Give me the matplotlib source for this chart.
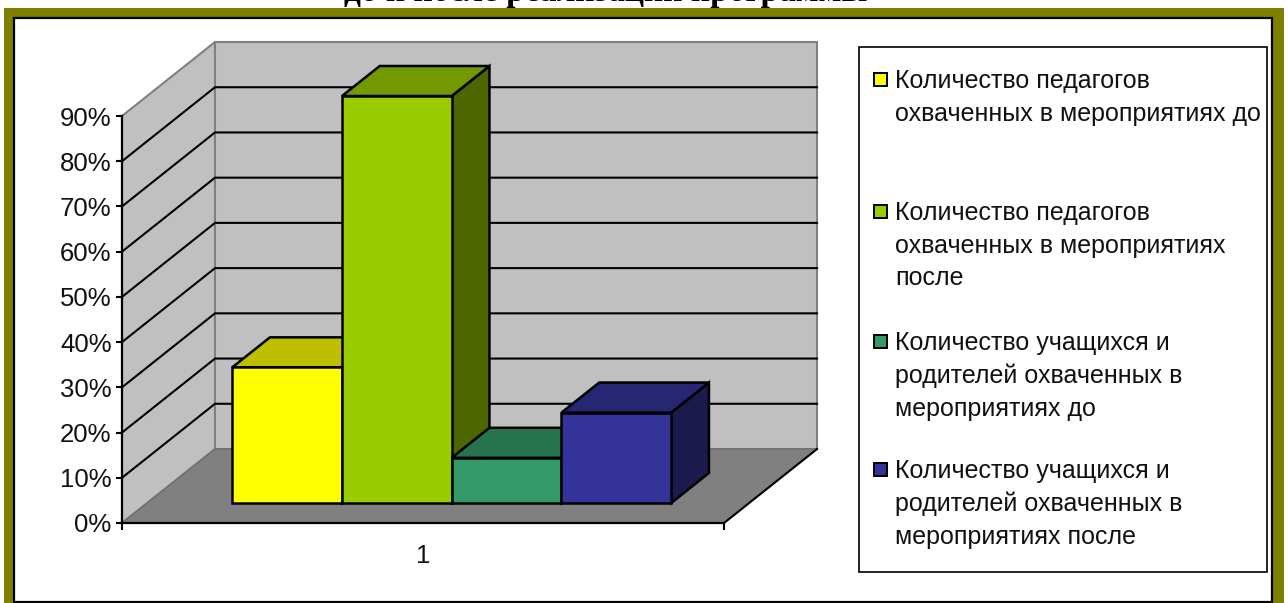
import matplotlib

matplotlib.use("Agg")
import matplotlib.pyplot as plt
from matplotlib.patches import Polygon, Rectangle

W, H = 1288, 603

categories = ["1"]
values = [30, 90, 10, 20]
y_ticks = [0, 10, 20, 30, 40, 50, 60, 70, 80, 90]
labels = [
    "Количество педагогов\nохваченных в мероприятиях до",
    "Количество педагогов\nохваченных в мероприятиях\nпосле",
    "Количество учащихся и\nродителей охваченных в\nмероприятиях до",
    "Количество учащихся и\nродителей охваченных в\nмероприятиях после",
]
title = "до и после реализации программы"

front_colors = ["#FFFF00", "#99CC00", "#339966", "#333399"]
top_colors = ["#BFBF00", "#739900", "#26734D", "#262673"]
side_colors = ["#808000", "#4D6600", "#1A4D33", "#1A1A4D"]

plt.rcParams["font.family"] = ["Liberation Sans", "DejaVu Sans"]

fig = plt.figure(figsize=(W / 100, H / 100), dpi=100)

# pixel canvas for the frame, title and legend
bg = fig.add_axes([0, 0, 1, 1], zorder=0)
bg.set_xlim(0, W)
bg.set_ylim(H, 0)
bg.axis("off")

bg.text(606, 1, title, family=["Liberation Serif"], weight="bold", fontsize=24,
        ha="center", va="baseline", zorder=1, clip_on=False)
bg.add_patch(Rectangle((4, 8), 1280, 595, fc="#808000", ec="none", zorder=2))
bg.add_patch(Rectangle((14, 18), 1258, 584, fc="white", ec="black", lw=1.6, zorder=3))

# legend
bg.add_patch(Rectangle((859, 47), 408, 525, fc="white", ec="black", lw=1.2, zorder=4))
legend_y = [80, 212, 342, 470]
for label, color, y in zip(labels, front_colors, legend_y):
    bg.add_patch(Rectangle((874, y - 7), 13, 13, fc=color, ec="black", lw=1.4, zorder=5))
    bg.text(895, y - 11, label, fontsize=18, va="top", ha="left", linespacing=1.45,
            color="#111111", zorder=5)

# chart axes, the front plane of the 3D box
ax = fig.add_axes([122 / W, 1 - 523 / H, 602 / W, 407 / H], zorder=1)
ax.patch.set_visible(False)
ax.set_xlim(0.5, 1.5)
ax.set_ylim(0, 90)

# shift in data units for a full step back in depth
DX = 93 / 602
DY = 74 / 407 * 90


def proj(x, y, d):
    return (x + DX * d, y + DY * d)


x0, x1 = ax.get_xlim()
y_top = y_ticks[-1]

# walls and floor
ax.add_patch(Polygon([proj(x0, 0, 0), proj(x0, y_top, 0), proj(x0, y_top, 1), proj(x0, 0, 1)],
                     fc="#C0C0C0", ec="#808080", lw=1.5, clip_on=False, zorder=1))
ax.add_patch(Polygon([proj(x0, 0, 1), proj(x0, y_top, 1), proj(x1, y_top, 1), proj(x1, 0, 1)],
                     fc="#C0C0C0", ec="#808080", lw=1.5, clip_on=False, zorder=1))
ax.add_patch(Polygon([proj(x0, 0, 0), proj(x1, 0, 0), proj(x1, 0, 1), proj(x0, 0, 1)],
                     fc="#808080", ec="#6E6E6E", lw=1, clip_on=False, zorder=1))
ax.plot(*zip(proj(x1, 0, 0), proj(x1, 0, 1)), color="black", lw=1.5, clip_on=False, zorder=2)

# gridlines running along the side wall and the back wall
for t in y_ticks[1:-1]:
    ax.plot(*zip(proj(x0, t, 0), proj(x0, t, 1), proj(x1, t, 1)), color="black", lw=1.5,
            clip_on=False, zorder=2, solid_joinstyle="miter")

# bars
d0, d1 = 20 / 74, 50 / 74
bar_w = 109.75 / 602
left = 1 - bar_w * len(values) / 2 + 0.006
for i, v in enumerate(values):
    a = left + i * bar_w
    b = a + bar_w
    z = 3 + i
    style = dict(ec="black", lw=1.8, clip_on=False, zorder=z, joinstyle="miter")
    ax.add_patch(Polygon([proj(b, 0, d0), proj(b, v, d0), proj(b, v, d1), proj(b, 0, d1)],
                         fc=side_colors[i], **style))
    ax.add_patch(Polygon([proj(a, v, d0), proj(b, v, d0), proj(b, v, d1), proj(a, v, d1)],
                         fc=top_colors[i], **style))
    ax.add_patch(Polygon([proj(a, 0, d0), proj(b, 0, d0), proj(b, v, d0), proj(a, v, d0)],
                         fc=front_colors[i], **style))

for side in ("top", "right"):
    ax.spines[side].set_visible(False)
for side in ("left", "bottom"):
    ax.spines[side].set_linewidth(1.6)
    ax.spines[side].set_zorder(10)

ax.set_yticks(y_ticks)
ax.set_yticklabels([f"{t}%" for t in y_ticks], fontsize=18.5, color="#111111")
ax.set_xticks([x0, x1])
ax.set_xticklabels(["", ""])
ax.set_xticks([1], labels=categories, minor=True, fontsize=18.5, color="#111111")
ax.tick_params(axis="y", length=4, width=1.5, pad=3.5)
ax.tick_params(axis="x", which="major", length=5, width=1.5)
ax.tick_params(axis="x", which="minor", length=0, pad=15)

fig.savefig("out.png", dpi=100)
